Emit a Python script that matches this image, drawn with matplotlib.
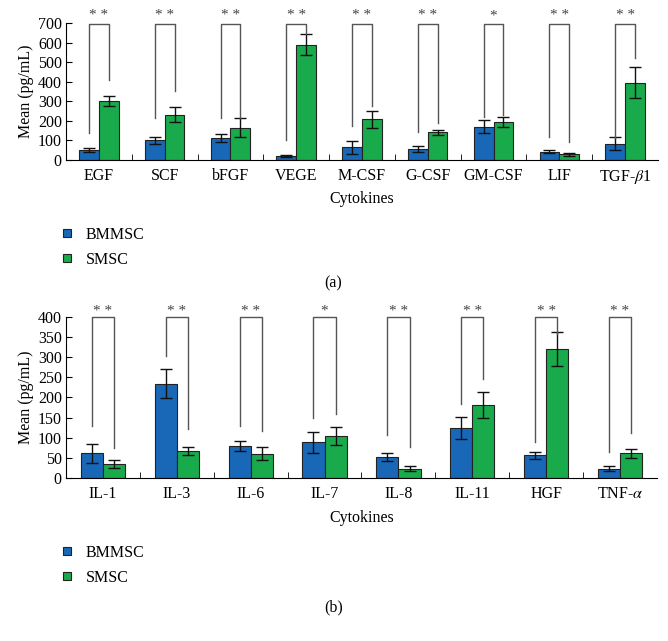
import numpy as np
import matplotlib
matplotlib.use('Agg')
from matplotlib import pyplot as plt
from matplotlib.patches import Patch

plt.rcParams['font.family'] = ['Liberation Serif', 'DejaVu Serif']
plt.rcParams['mathtext.fontset'] = 'stix'

# panel (a)
cyto_a = ['EGF', 'SCF', 'bFGF', 'VEGE', 'M-CSF', 'G-CSF', 'GM-CSF', 'LIF', r'TGF-$\beta$1']
bm_a = [50, 100, 112, 20, 65, 56, 170, 42, 82]
bm_a_err = [10, 20, 22, 5, 33, 15, 33, 8, 33]
sm_a = [300, 232, 165, 590, 207, 141, 194, 29, 396]
sm_a_err = [25, 38, 48, 55, 45, 12, 25, 8, 78]
sig_a = ['* *', '* *', '* *', '* *', '* *', '* *', '*', '* *', '* *']
leg_l_a = [140, 214, 214, 102, 173, 145, 221, 119, 111]
leg_r_a = [408, 354, 214, 645, 276, 187, 230, 93, 519]

# panel (b)
cyto_b = ['IL-1', 'IL-3', 'IL-6', 'IL-7', 'IL-8', 'IL-11', 'HGF', r'TNF-$\alpha$']
bm_b = [61, 234, 79, 89, 51, 125, 56, 23]
bm_b_err = [23, 36, 13, 26, 10, 27, 9, 6]
sm_b = [35, 67, 60, 104, 23, 181, 320, 61]
sm_b_err = [10, 9, 16, 22, 6, 32, 42, 12]
sig_b = ['* *', '* *', '* *', '*', '* *', '* *', '* *', '* *']
leg_l_b = [129, 304, 129, 148, 108, 183, 90, 65]
leg_r_b = [75, 121, 117, 158, 76, 246, 358, 113]

blue = '#1868b7'
green = '#19aa4c'
fs = 11.5


def panel(ax, cats, bm, bm_err, sm, sm_err, sig, legl, legr, ymax, ystep, ytop, ystar):
    x = np.arange(len(cats))
    w = 0.3
    ax.bar(x - w / 2, bm, w, color=blue, edgecolor='#222222', linewidth=0.8,
           yerr=bm_err, error_kw=dict(ecolor='#111111', elinewidth=1, capsize=4, capthick=1))
    ax.bar(x + w / 2, sm, w, color=green, edgecolor='#222222', linewidth=0.8,
           yerr=sm_err, error_kw=dict(ecolor='#111111', elinewidth=1, capsize=4, capthick=1))
    for i in range(len(cats)):
        ax.plot([x[i] - w / 2, x[i] - w / 2, x[i] + w / 2, x[i] + w / 2],
                [legl[i], ytop, ytop, legr[i]], color='#555555', lw=1, clip_on=False)
        ax.text(x[i], ystar, sig[i], ha='center', va='center', fontsize=11, color='#444444')
    ax.set_xlim(-0.5, len(cats) - 0.5)
    ax.set_ylim(0, ymax)
    ax.set_yticks(np.arange(0, ymax + 1, ystep))
    ax.set_xticks(x)
    ax.set_xticklabels(cats, fontsize=fs)
    ax.set_xticks(np.arange(len(cats) - 1) + 0.5, minor=True)
    ax.tick_params(axis='x', which='major', length=0, pad=6)
    ax.tick_params(axis='x', which='minor', direction='in', length=4)
    ax.tick_params(axis='y', direction='in', length=4, labelsize=fs, pad=3)
    ax.spines['top'].set_visible(False)
    ax.spines['right'].set_visible(False)
    ax.set_ylabel('Mean (pg/mL)', fontsize=fs, labelpad=3)


fig = plt.figure(figsize=(6.68, 6.41), dpi=100)
ax1 = fig.add_axes([0.0988, 0.7504, 0.8862, 0.2137])
ax2 = fig.add_axes([0.0988, 0.2543, 0.8847, 0.2512])

panel(ax1, cyto_a, bm_a, bm_a_err, sm_a, sm_a_err, sig_a, leg_l_a, leg_r_a, 700, 100, 695, 738)
panel(ax2, cyto_b, bm_b, bm_b_err, sm_b, sm_b_err, sig_b, leg_l_b, leg_r_b, 400, 50, 400, 414)

fig.text(0.542, 1 - 199 / 641, 'Cytokines', ha='center', va='center', fontsize=fs)
fig.text(0.542, 1 - 518 / 641, 'Cytokines', ha='center', va='center', fontsize=fs)
fig.text(0.499, 1 - 283 / 641, '(a)', ha='center', va='center', fontsize=fs)
fig.text(0.499, 1 - 607 / 641, '(b)', ha='center', va='center', fontsize=fs)

handles = [Patch(facecolor=blue, edgecolor='#222222', linewidth=0.8, label='BMMSC'),
           Patch(facecolor=green, edgecolor='#222222', linewidth=0.8, label='SMSC')]
for ytop in (227, 545):
    fig.legend(handles=handles, loc='upper left', bbox_to_anchor=(0.095, 1 - ytop / 641),
               frameon=False, fontsize=fs, handlelength=0.5, handleheight=0.35,
               handletextpad=0.9, labelspacing=0.55, borderaxespad=0, borderpad=0)

fig.savefig('out.png', dpi=100)
